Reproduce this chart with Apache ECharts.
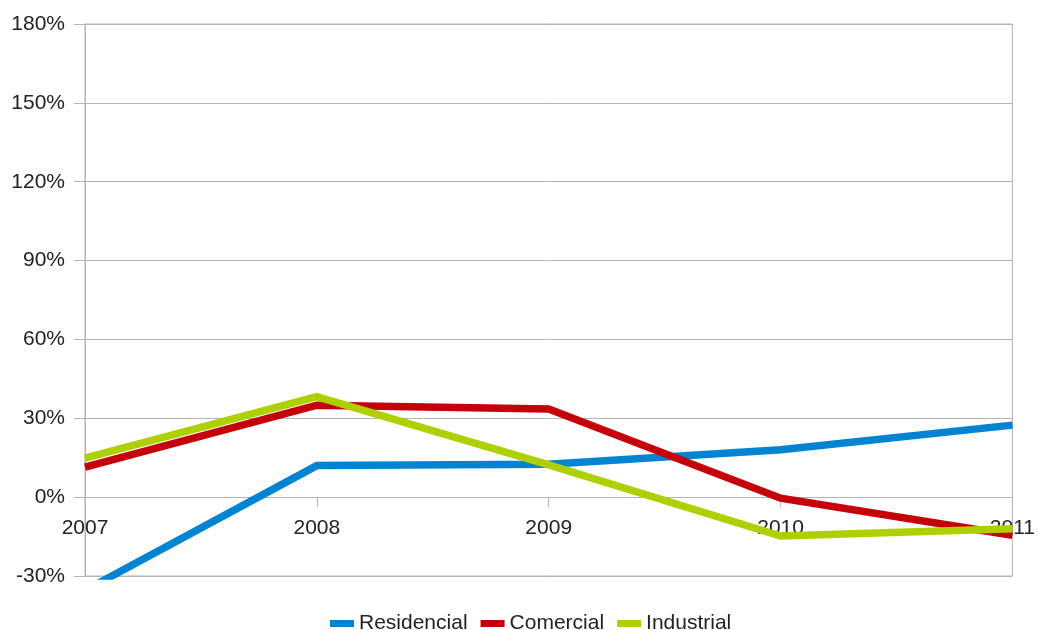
<!DOCTYPE html>
<html>
<head>
<meta charset="utf-8">
<script src="https://cdn.jsdelivr.net/npm/echarts@6/dist/echarts.min.js"></script>
<style>html,body{margin:0;padding:0;background:#fff}#c{width:1038px;height:630px}</style>
</head>
<body>
<div id="c"></div>
<script>
const categories = ['2007', '2008', '2009', '2010', '2011'];
const residencial = [-35.5, 12, 12.5, 18, 27.4];
const comercial = [11.4, 35, 33.5, -0.4, -14.5];
const industrial = [14.8, 38.2, 12.3, -14.8, -12];
const seriesNames = ['Residencial', 'Comercial', 'Industrial'];
const colors = ['#0084d1', '#c5000b', '#aecf00'];
const yMin = -30, yMax = 180, yStep = 30;

const gridTop = 24, gridBottom = 54, H = 630;
const plotH = H - gridTop - gridBottom;
const zeroOffset = -plotH * (0 - yMin) / (yMax - yMin);

const chart = echarts.init(document.getElementById('c'), null, {renderer: 'canvas'});
const font = 'Liberation Sans';
const mk = (name, data, i) => ({
  name, type: 'line', data, symbol: 'none', clip: true,
  lineStyle: {width: 7.5, color: colors[i], join: 'miter'},
  itemStyle: {color: colors[i]}
});
chart.setOption({
  animation: false,
  backgroundColor: '#fff',
  grid: {left: 85, right: 22, top: gridTop, bottom: gridBottom, show: true, borderColor: '#b3b3b3', borderWidth: 1, backgroundColor: 'transparent'},
  legend: {
    data: seriesNames, left: 325, top: 608, icon: 'rect', itemWidth: 24, itemHeight: 7, itemGap: 13,
    textStyle: {fontFamily: font, fontSize: 21, color: '#222'}
  },
  xAxis: {
    type: 'category', data: categories, boundaryGap: false, offset: zeroOffset,
    axisLine: {onZero: false, lineStyle: {color: '#b3b3b3'}},
    axisTick: {show: true, length: 10, lineStyle: {color: '#b3b3b3'}},
    axisLabel: {fontFamily: font, fontSize: 21, color: '#222', margin: 21}
  },
  yAxis: {
    type: 'value', min: yMin, max: yMax, interval: yStep,
    axisLine: {show: true, lineStyle: {color: '#b3b3b3'}},
    axisTick: {show: true, length: 11, lineStyle: {color: '#b3b3b3'}},
    splitLine: {lineStyle: {color: '#b3b3b3'}},
    axisLabel: {fontFamily: font, fontSize: 21, color: '#222', margin: 20, formatter: v => v + '%'}
  },
  series: [mk(seriesNames[0], residencial, 0), mk(seriesNames[1], comercial, 1), mk(seriesNames[2], industrial, 2)]
});
</script>
</body>
</html>
